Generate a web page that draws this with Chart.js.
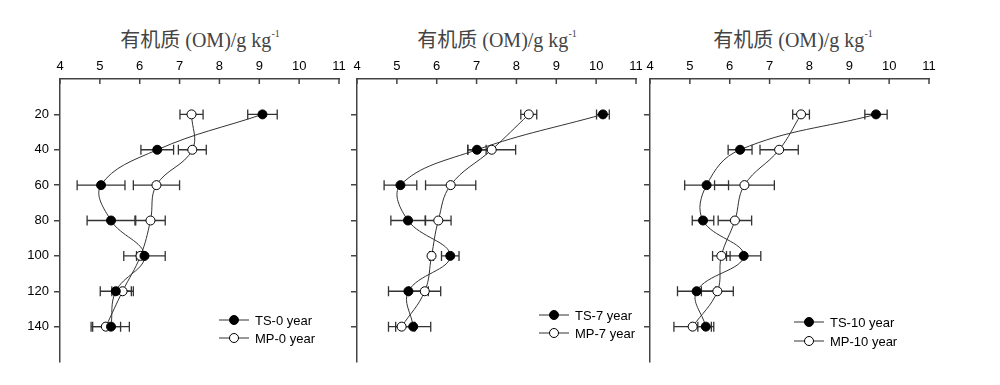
<!DOCTYPE html>
<html>
<head>
<meta charset="utf-8">
<script src="https://cdn.jsdelivr.net/npm/chart.js@4.4.0/dist/chart.umd.min.js"></script>
<style>
  body { margin: 0; background: #fff; width: 1000px; height: 385px; position: relative; overflow: hidden; }
  canvas { position: absolute; top: 0; }
  .title {
    position: absolute; top: 24px; width: 300px; text-align: center;
    font-family: "Liberation Serif", "Noto Sans CJK SC", serif; font-size: 20px; color: #444; line-height: 24px;
  }
  .title sup { font-size: 10px; position: relative; top: -2px; }
</style>
</head>
<body>
<div class="title" style="left:50px">有机质 (OM)/g kg<sup>-1</sup></div>
<div class="title" style="left:347px">有机质 (OM)/g kg<sup>-1</sup></div>
<div class="title" style="left:643px">有机质 (OM)/g kg<sup>-1</sup></div>
<canvas id="p0" width="355" height="385" style="left:0px"></canvas>
<canvas id="p7" width="355" height="385" style="left:297px"></canvas>
<canvas id="p10" width="355" height="385" style="left:590px"></canvas>
<script>
// depth (cm) on the y axis, organic matter on the x axis
const depths = [20, 40, 60, 80, 100, 120, 140];
const xTicks = [4, 5, 6, 7, 8, 9, 10, 11];

// 0 year
const ts0 = [9.08, 6.44, 5.03, 5.28, 6.12, 5.40, 5.28];
const ts0Err = [0.37, 0.41, 0.60, 0.60, 0.52, 0.39, 0.46];
const mp0 = [7.30, 7.32, 6.42, 6.27, 6.02, 5.57, 5.15];
const mp0Err = [0.29, 0.35, 0.58, 0.37, 0.10, 0.27, 0.37];

// 7 year
const ts7 = [10.17, 7.01, 5.09, 5.28, 6.34, 5.29, 5.41];
const ts7Err = [0.16, 0.23, 0.41, 0.43, 0.22, 0.50, 0.44];
const mp7 = [8.31, 7.38, 6.35, 6.04, 5.87, 5.70, 5.12];
const mp7Err = [0.20, 0.60, 0.63, 0.32, 0.05, 0.40, 0.33];

// 10 year
const ts10 = [9.67, 6.26, 5.42, 5.33, 6.35, 5.17, 5.40];
const ts10Err = [0.28, 0.30, 0.55, 0.27, 0.43, 0.48, 0.20];
const mp10 = [7.79, 7.24, 6.37, 6.13, 5.79, 5.69, 5.07];
const mp10Err = [0.21, 0.48, 0.75, 0.42, 0.22, 0.40, 0.47];

Chart.defaults.font.family = 'Arial, "Liberation Sans", sans-serif';
Chart.defaults.font.size = 13;
Chart.defaults.color = '#000';

const AXIS = '#444';

// horizontal error bars + inward ticks on the top axis
const errorBars = {
  id: 'errorBars',
  beforeDatasetsDraw(chart) {
    const { ctx, scales: { x, y }, chartArea } = chart;
    ctx.save();
    ctx.strokeStyle = '#333';
    ctx.lineWidth = 1.3;
    chart.data.datasets.forEach(ds => {
      ds.data.forEach((p, i) => {
        const e = ds.errors[i];
        const x0 = x.getPixelForValue(p.x - e);
        const x1 = x.getPixelForValue(p.x + e);
        const py = y.getPixelForValue(p.y);
        ctx.beginPath();
        ctx.moveTo(x0, py); ctx.lineTo(x1, py);
        ctx.moveTo(x0, py - 5); ctx.lineTo(x0, py + 5);
        ctx.moveTo(x1, py - 5); ctx.lineTo(x1, py + 5);
        ctx.stroke();
      });
    });
    ctx.strokeStyle = AXIS;
    ctx.lineWidth = 1.5;
    x.ticks.forEach(t => {
      const px = x.getPixelForValue(t.value);
      ctx.beginPath();
      ctx.moveTo(px, chartArea.top);
      ctx.lineTo(px, chartArea.top + 5);
      ctx.stroke();
    });
    ctx.restore();
  }
};

// legend: short line with the marker in its middle
const lineLegend = {
  id: 'lineLegend',
  afterDraw(chart, args, opts) {
    const { ctx, chartArea } = chart;
    ctx.save();
    chart.data.datasets.forEach((ds, i) => {
      const lx = chartArea.left + opts.dx;
      const ly = chartArea.top + opts.dy + i * opts.gap;
      ctx.strokeStyle = '#333';
      ctx.lineWidth = 1;
      ctx.beginPath();
      ctx.moveTo(lx, ly); ctx.lineTo(lx + 30, ly);
      ctx.stroke();
      ctx.beginPath();
      ctx.arc(lx + 15, ly, 4.5, 0, Math.PI * 2);
      ctx.fillStyle = ds.pointBackgroundColor;
      ctx.fill();
      ctx.strokeStyle = '#000';
      ctx.stroke();
      ctx.fillStyle = '#000';
      ctx.font = '13px Arial, "Liberation Sans", sans-serif';
      ctx.textBaseline = 'middle';
      ctx.fillText(ds.label, lx + 36, ly + 1);
    });
    ctx.restore();
  }
};

function series(label, vals, errs, fill) {
  return {
    label: label,
    data: depths.map((d, i) => ({ x: vals[i], y: d })),
    errors: errs,
    borderColor: '#333',
    borderWidth: 1,
    tension: 0.4,
    pointRadius: 4.5,
    pointBackgroundColor: fill,
    pointBorderColor: '#000',
    pointBorderWidth: 1
  };
}

function makePanel(id, tsLabel, tsVals, tsErr, mpLabel, mpVals, mpErr, showY, legend) {
  return new Chart(document.getElementById(id), {
    type: 'line',
    data: {
      datasets: [
        series(tsLabel, tsVals, tsErr, '#000'),
        series(mpLabel, mpVals, mpErr, '#fff')
      ]
    },
    options: {
      responsive: false,
      animation: false,
      devicePixelRatio: 1,
      events: [],
      layout: { padding: { left: 0, right: 16, top: 0, bottom: 23 } },
      scales: {
        x: {
          type: 'linear',
          position: 'top',
          min: 4, max: 11,
          afterBuildTicks: s => { s.ticks = xTicks.map(v => ({ value: v })); },
          afterFit: s => { s.height = 79; },
          ticks: { padding: 5, color: '#000' },
          grid: { drawOnChartArea: false, drawTicks: false },
          border: { color: AXIS, width: 1.5 }
        },
        y: {
          type: 'linear',
          reverse: true,
          min: 0, max: 160,
          afterBuildTicks: s => { s.ticks = depths.map(v => ({ value: v })); },
          afterFit: s => { s.width = 60; },
          ticks: { display: showY, padding: 5, color: '#000' },
          grid: { drawOnChartArea: false, drawTicks: true, tickLength: 6, color: AXIS, lineWidth: 1.5 },
          border: { color: AXIS, width: 1.5 }
        }
      },
      plugins: {
        legend: { display: false },
        tooltip: { enabled: false },
        lineLegend: legend
      }
    },
    plugins: [errorBars, lineLegend]
  });
}

makePanel('p0', 'TS-0 year', ts0, ts0Err, 'MP-0 year', mp0, mp0Err, true, { dx: 159, dy: 241, gap: 18 });
makePanel('p7', 'TS-7 year', ts7, ts7Err, 'MP-7 year', mp7, mp7Err, false, { dx: 182, dy: 236, gap: 18 });
makePanel('p10', 'TS-10 year', ts10, ts10Err, 'MP-10 year', mp10, mp10Err, false, { dx: 144, dy: 243, gap: 19 });
</script>
</body>
</html>
